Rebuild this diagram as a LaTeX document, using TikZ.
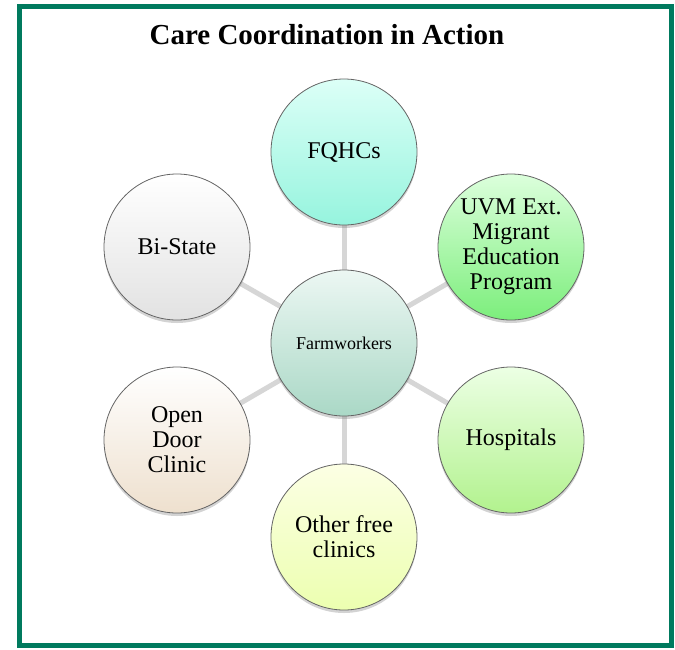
\documentclass[tikz,border=0pt]{standalone}
\usepackage{fontspec}
\setmainfont{Liberation Serif}
\usetikzlibrary{shadows,backgrounds}
\definecolor{frame}{RGB}{0,122,94}
\definecolor{link}{RGB}{214,214,214}
\definecolor{rim}{RGB}{100,100,100}
\tikzset{
  bubble/.style={circle, minimum size=146pt, inner sep=0pt, draw=rim, line width=0.8pt,
    align=center, font=\rmfamily\fontsize{24}{25}\selectfont,
    drop shadow={opacity=0.35, shadow xshift=0pt, shadow yshift=-3pt}},
  linkline/.style={draw=link, line width=5pt},
}
\begin{document}
\begin{tikzpicture}[x=1pt,y=-1pt]
\useasboundingbox (0,0) rectangle (675,649);
\draw[frame, line width=5pt] (19.5,6) rectangle (671.5,645);
\node (title) at (327,35) {\fontsize{29}{31}\selectfont\bfseries Care Coordination in Action};
\node[bubble, top color={rgb,255:red,236;green,247;blue,243}, bottom color={rgb,255:red,170;green,216;blue,198},
  font=\rmfamily\fontsize{18}{20}\selectfont] (farm) at (344,343) {Farmworkers};
\node[bubble, top color={rgb,255:red,220;green,255;blue,247}, bottom color={rgb,255:red,150;green,244;blue,222}] (fqhc) at (344,152) {FQHCs};
\node[bubble, top color={rgb,255:red,220;green,255;blue,220}, bottom color={rgb,255:red,124;green,238;blue,124}] (uvm) at (511,247) {UVM Ext.\\Migrant\\Education\\Program};
\node[bubble, top color={rgb,255:red,236;green,255;blue,228}, bottom color={rgb,255:red,178;green,242;blue,142}] (hosp) at (511,440) {Hospitals};
\node[bubble, top color={rgb,255:red,252;green,255;blue,228}, bottom color={rgb,255:red,236;green,255;blue,176}] (other) at (344,537) {Other free\\clinics};
\node[bubble, top color={rgb,255:red,255;green,255;blue,255}, bottom color={rgb,255:red,238;green,224;blue,206}] (open) at (177,440) {Open\\Door\\Clinic};
\node[bubble, top color={rgb,255:red,255;green,255;blue,255}, bottom color={rgb,255:red,226;green,226;blue,226}] (bistate) at (177,247) {Bi-State};
\begin{scope}[on background layer]
\foreach \n in {fqhc,uvm,hosp,other,open,bistate}
  \draw[linkline] (farm.center) -- (\n.center);
\end{scope}
\end{tikzpicture}
\end{document}
